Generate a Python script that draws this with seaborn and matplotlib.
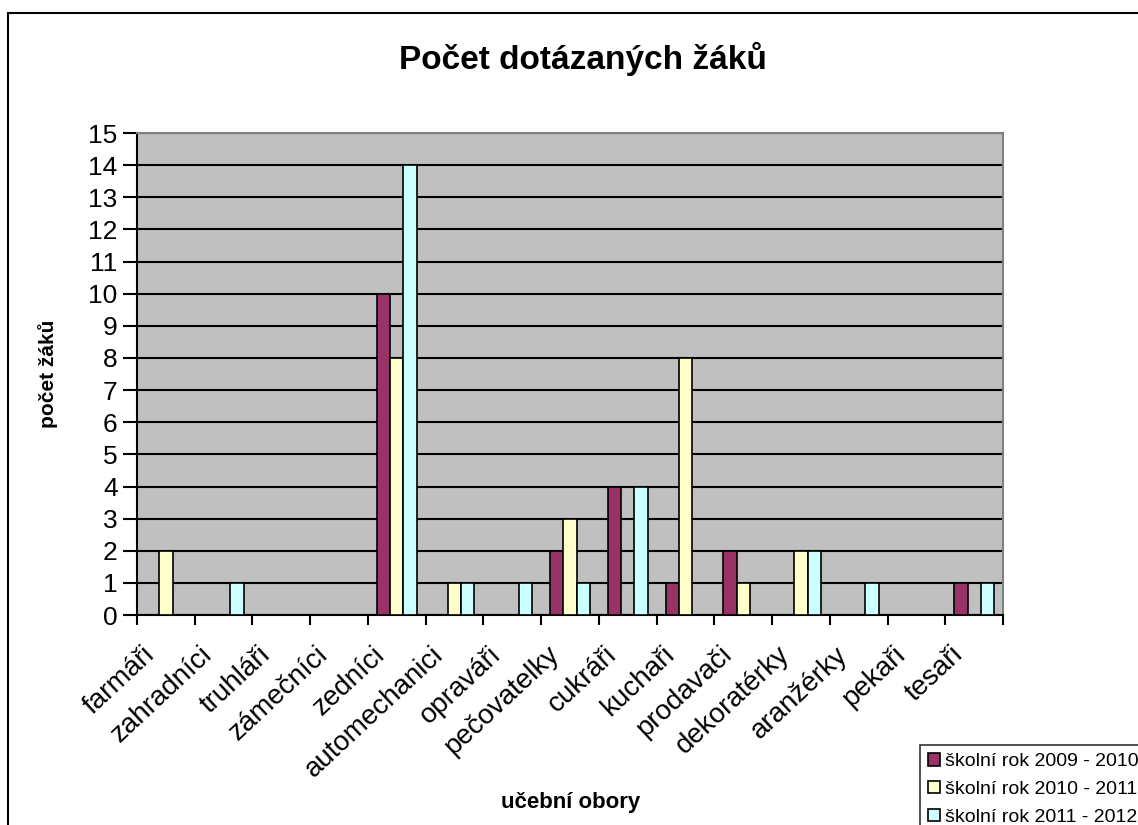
import numpy as np
import pandas as pd
import matplotlib
matplotlib.use('Agg')
import matplotlib.pyplot as plt
import matplotlib.transforms as mtransforms
from matplotlib.patches import Rectangle
import seaborn as sns

# data
obory = ['farmáři', 'zahradníci', 'truhláři', 'zámečníci', 'zedníci',
         'automechanici', 'opraváři', 'pečovatelky', 'cukráři', 'kuchaři',
         'prodavači', 'dekoratérky', 'aranžérky', 'pekaři', 'tesaři']
rok_2009 = [0, 0, 0, 0, 10, 0, 0, 2, 4, 1, 2, 0, 0, 0, 1]
rok_2010 = [2, 0, 0, 0, 8, 1, 0, 3, 0, 8, 1, 2, 0, 0, 0]
rok_2011 = [0, 1, 0, 0, 14, 1, 1, 1, 4, 0, 0, 2, 1, 0, 1]
roky = ['školní rok 2009 - 2010', 'školní rok 2010 - 2011', 'školní rok 2011 - 2012']
barvy = ['#993366', '#FFFFCC', '#CCFFFF']

df = pd.DataFrame({
    'obor': obory * 3,
    'pocet': rok_2009 + rok_2010 + rok_2011,
    'rok': [roky[0]] * 15 + [roky[1]] * 15 + [roky[2]] * 15,
})

sns.set_style('white')
plt.rcParams['font.family'] = ['Liberation Sans', 'DejaVu Sans']
plt.rcParams['text.color'] = 'black'
plt.rcParams['xtick.color'] = 'black'
plt.rcParams['ytick.color'] = 'black'
plt.rcParams['xtick.labelcolor'] = 'black'
plt.rcParams['ytick.labelcolor'] = 'black'

fig = plt.figure(figsize=(11.38, 8.25), dpi=100)
ax = fig.add_axes([0.1204, 0.2545, 0.761, 0.5842])

sns.barplot(data=df, x='obor', y='pocet', hue='rok', order=obory,
            hue_order=roky, palette=barvy, width=0.69, gap=0,
            edgecolor='black', linewidth=1.2, saturation=1, ax=ax,
            zorder=3)

ax.set_facecolor('#C0C0C0')
ax.set_ylim(0, 15)
ax.set_xlim(-0.5, 14.5)
ax.set_yticks(range(0, 16))
ax.yaxis.grid(True, color='black', linewidth=1.5, zorder=1)
ax.set_axisbelow(True)
for s in ['top', 'right']:
    ax.spines[s].set_color('#808080')
    ax.spines[s].set_linewidth(1.5)
for s in ['left', 'bottom']:
    ax.spines[s].set_color('black')
    ax.spines[s].set_linewidth(1.5)

ax.tick_params(axis='y', direction='out', length=10, width=1.5,
               labelsize=19, pad=4, left=True)
ax.set_xticks(np.arange(-0.5, 15, 1), minor=True)
ax.tick_params(axis='x', which='minor', direction='out', length=7,
               width=1.5, bottom=True)
ax.tick_params(axis='x', which='major', length=0, labelsize=20, pad=0)
ax.set_xticks(range(len(obory)))
ax.set_xticklabels(obory, rotation=43, ha='right', va='center',
                   rotation_mode='anchor')
offset = mtransforms.ScaledTranslation(-0.15, -0.36, fig.dpi_scale_trans)
for lab in ax.get_xticklabels():
    lab.set_transform(lab.get_transform() + offset)

ax.set_xlabel('')
ax.set_ylabel('')
fig.text(0.0422, 0.547, 'počet žáků', rotation=90, ha='center', va='center',
         fontsize=15, fontweight='bold')
fig.text(0.501, 0.027, 'učební obory', ha='center', va='center',
         fontsize=16, fontweight='bold')
fig.text(0.512, 0.929, 'Počet dotázaných žáků', ha='center', va='center',
         fontsize=24, fontweight='bold')

ax.get_legend().remove()
handles = [Rectangle((0, 0), 1, 1, facecolor=c, edgecolor='black', linewidth=1.2)
           for c in barvy]
leg = fig.legend(handles, roky, loc='upper left',
                 bbox_to_anchor=(920 / 1138, 1 - 745 / 825),
                 fontsize=14, frameon=True, fancybox=False,
                 handlelength=0.6, handleheight=0.6, handletextpad=0.25,
                 labelspacing=0.56, borderpad=0.42, borderaxespad=0)
leg.get_frame().set_edgecolor('black')
leg.get_frame().set_linewidth(1.2)

# chart frame
fig.patches.append(Rectangle((8 / 1138, -0.1), 1.2, 1 - 13 / 825 + 0.1,
                             transform=fig.transFigure, fill=False,
                             edgecolor='black', linewidth=1.5))

fig.savefig('out.png', dpi=100, facecolor='white')
